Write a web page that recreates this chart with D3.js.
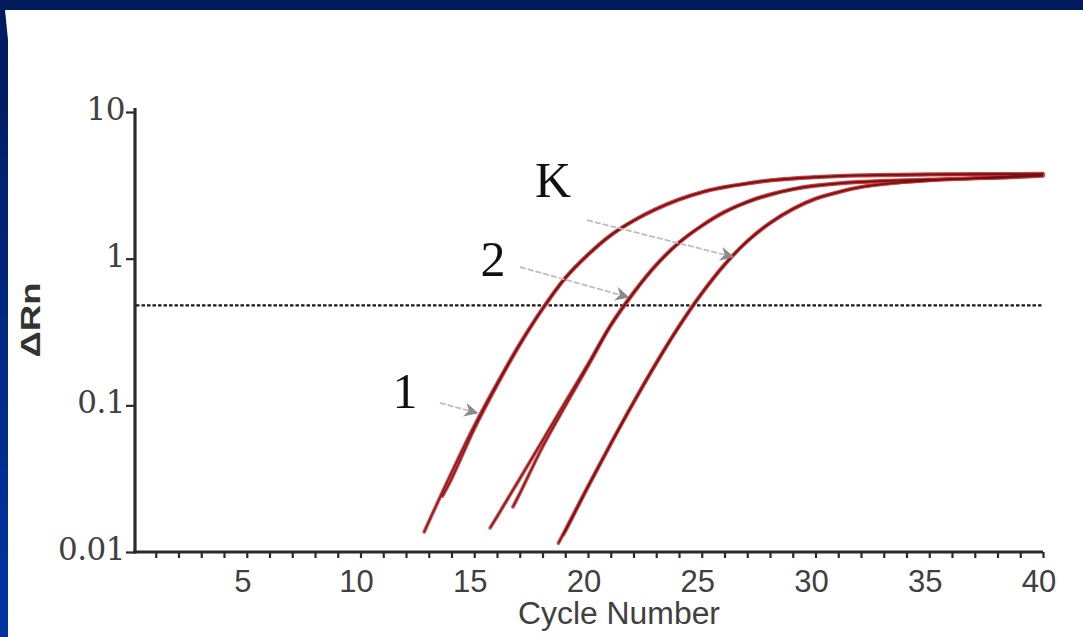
<!DOCTYPE html>
<html>
<head>
<meta charset="utf-8">
<script src="https://cdn.jsdelivr.net/npm/d3@7"></script>
<style>
  html, body { margin: 0; padding: 0; background: #001a5c; }
  svg { display: block; }
</style>
</head>
<body>
<svg id="chart" width="1083" height="637"></svg>
<script>
// ---------- data ----------
const xTickLabels = [5, 10, 15, 20, 25, 30, 35, 40];
const yTickValues = [0.01, 0.1, 1, 10];
const yTickLabels = ["0.01", "0.1", "1", "10"];
const threshold = 0.48;

const cycles1a = [12.8, 13, 14, 15, 16, 17, 18, 19, 20, 21, 22, 23, 24, 25, 26, 27, 28, 30, 32, 35, 40];
const values1a = [0.0137, 0.0161, 0.0347, 0.0724, 0.141, 0.263, 0.457, 0.741, 1.07, 1.45, 1.82, 2.19, 2.54, 2.85, 3.09, 3.27, 3.43, 3.61, 3.72, 3.77, 3.80];
const cycles1b = [13.6, 14, 15, 16, 17, 18, 19, 20, 21, 22, 23, 24, 25, 26, 27, 28, 30, 32, 35, 40];
const values1b = [0.0240, 0.0315, 0.0690, 0.137, 0.258, 0.452, 0.735, 1.06, 1.44, 1.81, 2.17, 2.52, 2.83, 3.06, 3.24, 3.40, 3.58, 3.68, 3.73, 3.75];

const cycles2a = [15.7, 16, 17, 18, 19, 20, 21, 22, 23, 24, 25, 26, 27, 28, 29, 30, 32, 35, 38, 40];
const values2a = [0.0146, 0.0174, 0.0316, 0.0575, 0.105, 0.191, 0.355, 0.589, 0.912, 1.29, 1.68, 2.09, 2.45, 2.75, 2.99, 3.16, 3.35, 3.47, 3.55, 3.66];
const cycles2b = [16.7, 17, 18, 19, 20, 21, 22, 23, 24, 25, 26, 27, 28, 29, 30, 32, 35, 38, 40];
const values2b = [0.0203, 0.0250, 0.0520, 0.0990, 0.185, 0.348, 0.580, 0.900, 1.28, 1.67, 2.07, 2.42, 2.72, 2.96, 3.13, 3.32, 3.45, 3.56, 3.70];

const cycles3a = [18.7, 19, 20, 21, 22, 23, 24, 25, 26, 27, 28, 29, 30, 31, 32, 33, 35, 37, 40];
const values3a = [0.0115, 0.0141, 0.0282, 0.0550, 0.105, 0.195, 0.347, 0.582, 0.912, 1.32, 1.76, 2.19, 2.57, 2.85, 3.09, 3.24, 3.43, 3.55, 3.76];
const cycles3b = [18.9, 19, 20, 21, 22, 23, 24, 25, 26, 27, 28, 29, 30, 31, 32, 33, 35, 37, 40];
const values3b = [0.0130, 0.0138, 0.0277, 0.0543, 0.104, 0.193, 0.343, 0.577, 0.905, 1.31, 1.74, 2.17, 2.55, 2.83, 3.07, 3.22, 3.41, 3.53, 3.72];

// annotation labels and arrows, in data units (cycle, ΔRn)
const labelTexts = ["K", "2", "1"];
const labelCycles = [18.46, 15.82, 11.96];
const labelValues = [2.63, 0.76, 0.096];
const arrowFromCycles = [19.96, 17.01, 13.49];
const arrowFromValues = [1.83, 0.877, 0.104];
const arrowToCycles = [26.37, 21.76, 15.12];
const arrowToValues = [1.03, 0.547, 0.0887];

// ---------- drawing ----------
const W = 1083, H = 637;
const svg = d3.select("#chart");

// background frame
const defs = svg.append("defs");
const grad = defs.append("linearGradient").attr("id", "lb").attr("x1", 0).attr("y1", 0).attr("x2", 0).attr("y2", 1);
grad.append("stop").attr("offset", "0%").attr("stop-color", "#001a5c");
grad.append("stop").attr("offset", "100%").attr("stop-color", "#0035a3");
svg.append("rect").attr("x", 0).attr("y", 0).attr("width", W).attr("height", H).attr("fill", "url(#lb)");
svg.append("rect").attr("x", 0).attr("y", 0).attr("width", W).attr("height", 10).attr("fill", "#001a5c");
svg.append("polygon").attr("points", "5,10 1083,10 1083,637 8,637 8,40").attr("fill", "#ffffff");

const x = d3.scaleLinear().domain([0, 40]).range([133, 1043]);
const y = d3.scaleLog().domain([0.01, 10]).range([552, 112]);

// axes
const xAxis = d3.axisBottom(x).tickValues(d3.range(1, 41)).tickSize(6).tickFormat("");
const gx = svg.append("g").attr("transform", `translate(0,${y(0.01)})`).call(xAxis);
gx.select(".domain").remove();
gx.selectAll(".tick line").attr("stroke", "#2a2a2a").attr("stroke-width", 2.2);

svg.append("line").attr("x1", x(0)).attr("x2", x(40)).attr("y1", y(0.01)).attr("y2", y(0.01))
  .attr("stroke", "#2a2a2a").attr("stroke-width", 3.2);

const yAxis = d3.axisLeft(y).tickValues(yTickValues).tickSize(9).tickFormat("");
const gy = svg.append("g").attr("transform", `translate(${x(0) + 2},0)`).call(yAxis);
gy.select(".domain").remove();
gy.selectAll(".tick line").attr("stroke", "#2a2a2a").attr("stroke-width", 2.2);
svg.append("line").attr("x1", x(0) + 2).attr("x2", x(0) + 2).attr("y1", y(10) - 4).attr("y2", y(0.01) + 1.5)
  .attr("stroke", "#2a2a2a").attr("stroke-width", 3.2);

// tick labels
svg.append("g").selectAll("text").data(xTickLabels).join("text")
  .attr("x", d => x(d) - 4).attr("y", 592)
  .attr("text-anchor", "middle")
  .attr("font-family", "Liberation Sans, Arial, sans-serif")
  .attr("font-size", 31).attr("fill", "#404040")
  .text(d => d);

svg.append("g").selectAll("text").data(yTickValues).join("text")
  .attr("x", x(0) - 8).attr("y", d => y(d) + 8)
  .attr("text-anchor", "end")
  .attr("font-family", "DejaVu Serif, serif")
  .attr("font-size", 31).attr("fill", "#404040")
  .attr("letter-spacing", -0.5)
  .text((d, i) => yTickLabels[i]);

// axis titles
svg.append("text").attr("x", 619).attr("y", 624).attr("text-anchor", "middle")
  .attr("font-family", "Liberation Sans, Arial, sans-serif").attr("font-size", 31)
  .attr("fill", "#404040").attr("textLength", 202).attr("lengthAdjust", "spacingAndGlyphs")
  .text("Cycle Number");

svg.append("text").attr("transform", "translate(40,320) rotate(-90)").attr("text-anchor", "middle")
  .attr("font-family", "Liberation Sans, Arial, sans-serif").attr("font-size", 27).attr("font-weight", "bold")
  .attr("fill", "#333").attr("textLength", 75).attr("lengthAdjust", "spacingAndGlyphs")
  .text("ΔRn");

// threshold
svg.append("line").attr("x1", x(0) + 3).attr("x2", x(40)).attr("y1", y(threshold)).attr("y2", y(threshold))
  .attr("stroke", "#1a1a1a").attr("stroke-width", 2.2).attr("stroke-dasharray", "3.5,2");

// amplification curves
const series = [
  [cycles1a, values1a], [cycles1b, values1b],
  [cycles2a, values2a], [cycles2b, values2b],
  [cycles3a, values3a], [cycles3b, values3b]
];
const line = d3.line().x(d => x(d[0])).y(d => y(d[1])).curve(d3.curveCatmullRom.alpha(0.5));
const gc = svg.append("g");
series.forEach(([cs, vs]) => {
  const pts = cs.map((c, i) => [c, vs[i]]);
  gc.append("path").attr("d", line(pts)).attr("fill", "none")
    .attr("stroke", "#c8363a").attr("stroke-width", 3.6).attr("stroke-linecap", "round").attr("opacity", 0.9);
});
series.forEach(([cs, vs]) => {
  const pts = cs.map((c, i) => [c, vs[i]]);
  gc.append("path").attr("d", line(pts)).attr("fill", "none")
    .attr("stroke", "#6a1010").attr("stroke-width", 1.2).attr("opacity", 0.85);
});

// arrows
defs.append("marker").attr("id", "ah").attr("viewBox", "0 0 10 10").attr("refX", 9).attr("refY", 5)
  .attr("markerWidth", 16).attr("markerHeight", 14).attr("markerUnits", "userSpaceOnUse").attr("orient", "auto")
  .append("path").attr("d", "M0,0 L10,5 L0,10 L3,5 Z").attr("fill", "#8a8a8a");
labelTexts.forEach((t, i) => {
  svg.append("line")
    .attr("x1", x(arrowFromCycles[i])).attr("y1", y(arrowFromValues[i]))
    .attr("x2", x(arrowToCycles[i])).attr("y2", y(arrowToValues[i]))
    .attr("stroke", "#bdbdbd").attr("stroke-width", 1.8).attr("stroke-dasharray", "6,2")
    .attr("marker-end", "url(#ah)");
});

// labels
svg.append("g").selectAll("text").data(labelTexts).join("text")
  .attr("x", (d, i) => x(labelCycles[i])).attr("y", (d, i) => y(labelValues[i]))
  .attr("text-anchor", "middle")
  .attr("font-family", "Liberation Serif, Times New Roman, serif")
  .attr("font-size", 50).attr("fill", "#111")
  .text(d => d);
</script>
</body>
</html>
